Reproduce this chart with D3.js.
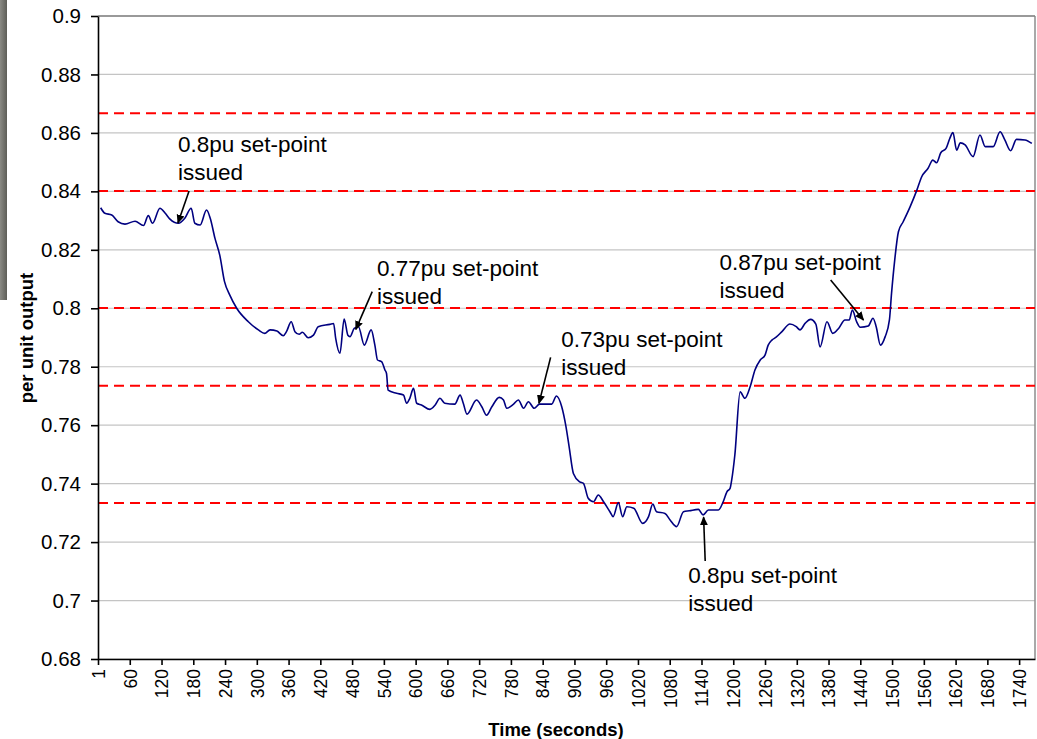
<!DOCTYPE html>
<html><head><meta charset="utf-8">
<script src="https://cdn.jsdelivr.net/npm/d3@7/dist/d3.min.js"></script>
<style>body{margin:0;background:#fff;} svg{display:block;}</style>
</head><body>
<svg id="c" width="1037" height="739"></svg>
<script>
// ---- data ----
const times = [5,13,26,38,51,70,86,95,103,117,127,136,152,164,176,183,193,205,212,221,230,239,249,262,284,303,315,325,338,350,356,365,372,380,386,397,407,416,438,445,449,457,465,472,476,484,492,503,516,523,528,536,542,545,548,564,577,583,589,596,602,611,627,637,646,655,674,684,690,697,715,725,734,744,758,766,772,785,794,804,813,824,834,857,866,876,884,890,898,910,917,926,936,945,955,967,973,983,991,999,1012,1029,1040,1048,1055,1071,1081,1093,1106,1117,1134,1143,1153,1172,1181,1188,1194,1197,1203,1213,1222,1232,1241,1251,1260,1266,1273,1281,1292,1307,1319,1326,1336,1346,1356,1364,1377,1388,1399,1411,1419,1425,1433,1440,1455,1464,1470,1478,1487,1495,1499,1505,1512,1521,1534,1547,1556,1568,1577,1584,1592,1602,1609,1615,1622,1629,1638,1653,1666,1676,1691,1704,1713,1724,1735,1751,1764];
const output = [0.8344,0.8325,0.8319,0.8296,0.8288,0.8298,0.8283,0.8317,0.8291,0.8342,0.8325,0.8305,0.8291,0.8308,0.8342,0.8291,0.8285,0.8336,0.8308,0.8239,0.8182,0.8091,0.8045,0.8000,0.7954,0.7926,0.7914,0.7926,0.7922,0.7906,0.7920,0.7954,0.7920,0.7911,0.7918,0.7899,0.7908,0.7937,0.7945,0.7948,0.7897,0.7846,0.7963,0.7908,0.7903,0.7931,0.7937,0.7874,0.7926,0.7874,0.7823,0.7817,0.7789,0.7777,0.7720,0.7709,0.7703,0.7675,0.7692,0.7726,0.7675,0.7669,0.7654,0.7669,0.7692,0.7675,0.7672,0.7703,0.7675,0.7638,0.7686,0.7663,0.7634,0.7663,0.7695,0.7686,0.7658,0.7672,0.7686,0.7658,0.7680,0.7658,0.7672,0.7672,0.7700,0.7663,0.7595,0.7526,0.7435,0.7406,0.7401,0.7350,0.7338,0.7361,0.7338,0.7304,0.7287,0.7335,0.7287,0.7321,0.7316,0.7264,0.7287,0.7330,0.7304,0.7298,0.7275,0.7253,0.7304,0.7307,0.7312,0.7293,0.7310,0.7310,0.7338,0.7372,0.7384,0.7412,0.7498,0.7714,0.7692,0.7732,0.7789,0.7823,0.7840,0.7874,0.7891,0.7901,0.7920,0.7946,0.7937,0.7926,0.7949,0.7962,0.7946,0.7868,0.7954,0.7914,0.7931,0.7960,0.7960,0.7994,0.7954,0.7935,0.7939,0.7966,0.7937,0.7874,0.7903,0.7960,0.8051,0.8165,0.8262,0.8296,0.8347,0.8405,0.8450,0.8479,0.8507,0.8498,0.8532,0.8547,0.8581,0.8601,0.8541,0.8566,0.8559,0.8519,0.8593,0.8553,0.8553,0.8604,0.8576,0.8539,0.8578,0.8576,0.8564];
const limitLines = [0.8667, 0.8401, 0.8001, 0.7735, 0.7334];
const yTicks = [0.68,0.70,0.72,0.74,0.76,0.78,0.80,0.82,0.84,0.86,0.88,0.90];
const yTickLabels = ["0.68","0.7","0.72","0.74","0.76","0.78","0.8","0.82","0.84","0.86","0.88","0.9"];
const xTickLabels = ["1","60","120","180","240","300","360","420","480","540","600","660","720","780","840","900","960","1020","1080","1140","1200","1260","1320","1380","1440","1500","1560","1620","1680","1740"];
const xTickValues = xTickLabels.map((d,i)=>i*60);
const annLine1 = ["0.8pu set-point","0.77pu set-point","0.73pu set-point","0.87pu set-point","0.8pu set-point"];
const annLine2 = ["issued","issued","issued","issued","issued"];
const annTextT = [151, 527, 875, 1174, 1115];
const annTextV = [0.8535, 0.8110, 0.7868, 0.8131, 0.7059];
const arrowFromT = [172, 518, 855, 1384, 1147];
const arrowFromV = [0.8401, 0.8057, 0.7832, 0.8097, 0.7135];
const arrowToT = [151, 487, 833, 1446, 1144];
const arrowToV = [0.8292, 0.7928, 0.7675, 0.7960, 0.7285];

// ---- chart ----
const svg = d3.select("#c");
const L=98, R=1035, T=16, B=659;
const x = d3.scaleLinear().domain([0,1770]).range([L,R]);
const y = d3.scaleLinear().domain([0.68,0.90]).range([B,T]);
const FONT = "'Liberation Sans', Arial, sans-serif";

// photo edge artifact on the left
const defs = svg.append("defs");
const g1 = defs.append("linearGradient").attr("id","edge").attr("x1",0).attr("x2",1);
g1.append("stop").attr("offset","0%").attr("stop-color","#8a8a84");
g1.append("stop").attr("offset","100%").attr("stop-color","#5e5e58");
svg.append("rect").attr("x",0).attr("y",0).attr("width",7).attr("height",300).attr("fill","url(#edge)");

// arrow marker
defs.append("marker").attr("id","ah").attr("viewBox","0 0 10 10").attr("refX",9).attr("refY",5)
  .attr("markerWidth",9).attr("markerHeight",9).attr("markerUnits","userSpaceOnUse").attr("orient","auto")
  .append("path").attr("d","M0,0.5 L10,5 L0,9.5 Z").attr("fill","#000");

// gridlines
svg.append("g").selectAll("line").data(yTicks).join("line")
  .attr("x1",L).attr("x2",R).attr("y1",d=>y(d)).attr("y2",d=>y(d))
  .attr("stroke","#c4c4c4").attr("stroke-width",1.2);

// right / top border
svg.append("line").attr("x1",R).attr("x2",R).attr("y1",T).attr("y2",B).attr("stroke","#8c8c8c").attr("stroke-width",1.5);
svg.append("line").attr("x1",L).attr("x2",R).attr("y1",T).attr("y2",T).attr("stroke","#808080").attr("stroke-width",1.5);

// limit lines
svg.append("g").selectAll("line").data(limitLines).join("line")
  .attr("x1",L).attr("x2",R).attr("y1",d=>y(d)).attr("y2",d=>y(d))
  .attr("stroke","#ff0000").attr("stroke-width",2).attr("stroke-dasharray","10,6");

// data line
const pts = times.map((t,i)=>[t, output[i]]);
svg.append("path").datum(pts)
  .attr("d", d3.line().x(d=>x(d[0])).y(d=>y(d[1])).curve(d3.curveMonotoneX))
  .attr("fill","none").attr("stroke","#000080").attr("stroke-width",1.6);

// y axis
const yAxis = svg.append("g").attr("transform",`translate(${L},0)`)
  .call(d3.axisLeft(y).tickValues(yTicks).tickFormat((d,i)=>yTickLabels[i]).tickSize(7).tickSizeOuter(0).tickPadding(10));
yAxis.selectAll("text").attr("font-family",FONT).attr("font-size","20.5px").attr("fill","#000");
yAxis.selectAll("line,path").attr("stroke","#000").attr("stroke-width",1.6);

// x axis
const xAxis = svg.append("g").attr("transform",`translate(0,${B})`)
  .call(d3.axisBottom(x).tickValues(xTickValues).tickFormat((d,i)=>xTickLabels[i]).tickSize(6).tickSizeOuter(0));
xAxis.selectAll("text").attr("font-family",FONT).attr("font-size","17.5px").attr("fill","#000")
  .attr("transform","rotate(-90)").attr("text-anchor","end").attr("x",-10).attr("y",0).attr("dy","0.36em");
xAxis.selectAll("line,path").attr("stroke","#000").attr("stroke-width",1.6);

// axis titles
svg.append("text").attr("x",556).attr("y",736).attr("text-anchor","middle")
  .attr("font-family",FONT).attr("font-weight","bold").attr("font-size","18.5px").text("Time (seconds)");
svg.append("text").attr("transform","translate(33,338) rotate(-90)").attr("text-anchor","middle")
  .attr("font-family",FONT).attr("font-weight","bold").attr("font-size","18.5px").text("per unit output");

// annotations
const ann = svg.append("g");
annLine1.forEach((t,i)=>{
  const tx = ann.append("text").attr("font-family",FONT).attr("font-size","22.5px").attr("fill","#000")
    .attr("x", x(annTextT[i])).attr("y", y(annTextV[i]));
  tx.append("tspan").attr("x", x(annTextT[i])).text(t);
  tx.append("tspan").attr("x", x(annTextT[i])).attr("dy", 28).text(annLine2[i]);
  ann.append("line").attr("x1",x(arrowFromT[i])).attr("y1",y(arrowFromV[i]))
    .attr("x2",x(arrowToT[i])).attr("y2",y(arrowToV[i]))
    .attr("stroke","#000").attr("stroke-width",1.6).attr("marker-end","url(#ah)");
});
</script>
</body></html>
